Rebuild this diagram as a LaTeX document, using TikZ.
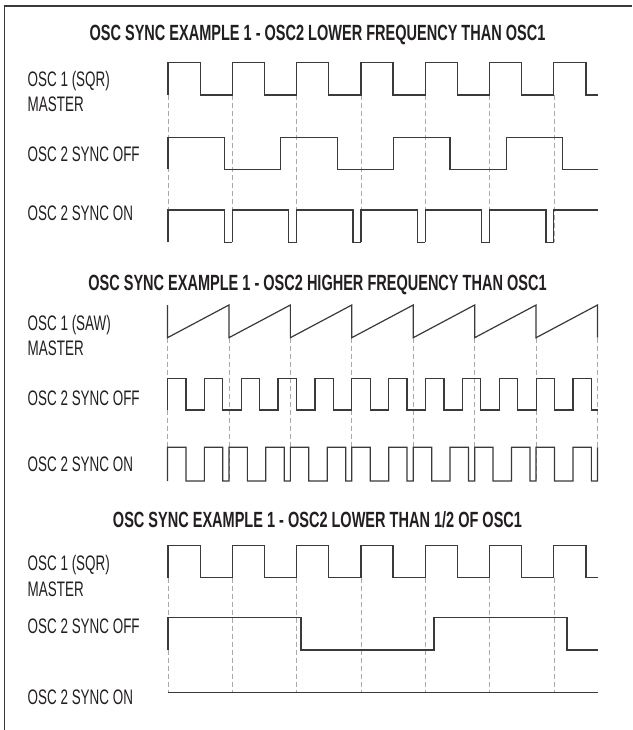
\documentclass[tikz,border=0pt]{standalone}
\usepackage{fontspec}
\setmainfont{Liberation Sans}
\newfontfamily\lblfont[FakeStretch=0.64]{Liberation Sans}
\newfontfamily\ttlfont[FakeStretch=0.66]{Liberation Sans}
\definecolor{waveink}{HTML}{3A3A3A}
\definecolor{guideink}{HTML}{A8A8A8}
\definecolor{textink}{HTML}{231F20}
\tikzstyle{ttl}   = [font=\ttlfont\bfseries\fontsize{22}{25}\selectfont,
                     text=textink, inner sep=0pt, anchor=base]
\tikzstyle{lbl}   = [font=\lblfont\fontsize{21}{24}\selectfont,
                     text=textink, inner sep=0pt, anchor=base west]
\tikzstyle{wave}  = [draw=waveink, line width=1.2pt, line join=miter]
\tikzstyle{guide} = [draw=guideink, line width=0.6pt, dash pattern=on 5pt off 3pt]

\begin{document}
\begin{tikzpicture}[x=1pt, y=-1pt]
  \useasboundingbox[fill=white] (0,0) rectangle (632,730);
  \draw[draw=waveink, line width=1.3pt] (4.7,730) -- (4.7,6) -- (632,6);

  % example 1
  \node[ttl] (t1) at (317.5,40.5) {OSC SYNC EXAMPLE 1 - OSC2 LOWER FREQUENCY THAN OSC1};
  \node[lbl] (m1a) at (27.5,86.5)  {OSC 1 (SQR)};
  \node[lbl] (m1b) at (27.5,112)   {MASTER};
  \node[lbl] (f1)  at (27.5,161.5) {OSC 2 SYNC OFF};
  \node[lbl] (n1)  at (27.5,220)   {OSC 2 SYNC ON};
  \foreach \k in {0,...,6}
    \draw[guide] ({168+64.3*\k},95) -- ({168+64.3*\k},242.3);
  \draw[wave] (168,95) \foreach \k in {0,...,6}{
      -- ({168+64.3*\k},62.5) -- ({200.15+64.3*\k},62.5)
      -- ({200.15+64.3*\k},95) -- ({min(232.3+64.3*\k,597.7)},95)};
  \draw[wave] (168,169.5) \foreach \k in {0,...,3}{
      -- ({168+112.8*\k},137.7) -- ({224.4+112.8*\k},137.7)
      -- ({224.4+112.8*\k},169.5) -- ({min(280.8+112.8*\k,597.7)},169.5)};
  \draw[wave] \foreach \k in {0,...,5}{
      ({168+64.3*\k},242.3) -- ({168+64.3*\k},210) -- ({224.4+64.3*\k},210)
      -- ({224.4+64.3*\k},242.3) -- ({232.3+64.3*\k},242.3)}
      (553.8,242.3) -- (553.8,210) -- (597.7,210);

  % example 2
  \node[ttl] (t2) at (317.5,290) {OSC SYNC EXAMPLE 1 - OSC2 HIGHER FREQUENCY THAN OSC1};
  \node[lbl] (m2a) at (27.5,330) {OSC 1 (SAW)};
  \node[lbl] (m2b) at (27.5,355) {MASTER};
  \node[lbl] (f2)  at (27.5,405) {OSC 2 SYNC OFF};
  \node[lbl] (n2)  at (27.5,471) {OSC 2 SYNC ON};
  \foreach \k in {0,...,7}
    \draw[guide] ({167.5+61.43*\k},337.7) -- ({167.5+61.43*\k},481);
  \draw[wave] (167.5,305) \foreach \k in {0,...,6}{
      -- ({167.5+61.43*\k},337.7) -- ({167.5+61.43*(\k+1)},305)}
      -- (597.5,337.7);
  \draw[wave] (167.5,410) \foreach \k in {0,...,11}{
      -- ({167.5+36.86*\k},378.3) -- ({185.93+36.86*\k},378.3)
      -- ({185.93+36.86*\k},410) -- ({min(204.36+36.86*\k,597.5)},410)};
  \draw[wave] (167.5,481) \foreach \k in {0,...,6}{
      -- ({167.5+61.43*\k},447.3) -- ({185.93+61.43*\k},447.3)
      -- ({185.93+61.43*\k},481) -- ({204.36+61.43*\k},481)
      -- ({204.36+61.43*\k},447.3) -- ({222.79+61.43*\k},447.3)
      -- ({222.79+61.43*\k},481) -- ({228.93+61.43*\k},481)}
      -- (597.5,447.3);

  % example 3
  \node[ttl] (t3) at (317.5,527.5) {OSC SYNC EXAMPLE 1 - OSC2 LOWER THAN 1/2 OF OSC1};
  \node[lbl] (m3a) at (27.5,570) {OSC 1 (SQR)};
  \node[lbl] (m3b) at (27.5,596) {MASTER};
  \node[lbl] (f3)  at (27.5,633) {OSC 2 SYNC OFF};
  \node[lbl] (n3)  at (27.5,704) {OSC 2 SYNC ON};
  \foreach \k in {0,...,6}
    \draw[guide] ({168+64.3*\k},577.7) -- ({168+64.3*\k},692.7);
  \draw[wave] (168,577.7) \foreach \k in {0,...,6}{
      -- ({168+64.3*\k},545.7) -- ({200.15+64.3*\k},545.7)
      -- ({200.15+64.3*\k},577.7) -- ({min(232.3+64.3*\k,597.7)},577.7)};
  \draw[wave] (168,650) -- (168,617.7) -- (301,617.7) -- (301,650)
      -- (434,650) -- (434,617.7) -- (567,617.7) -- (567,650) -- (597.7,650);
  \draw[wave] (168,692.7) -- (597.7,692.7);
\end{tikzpicture}
\end{document}
